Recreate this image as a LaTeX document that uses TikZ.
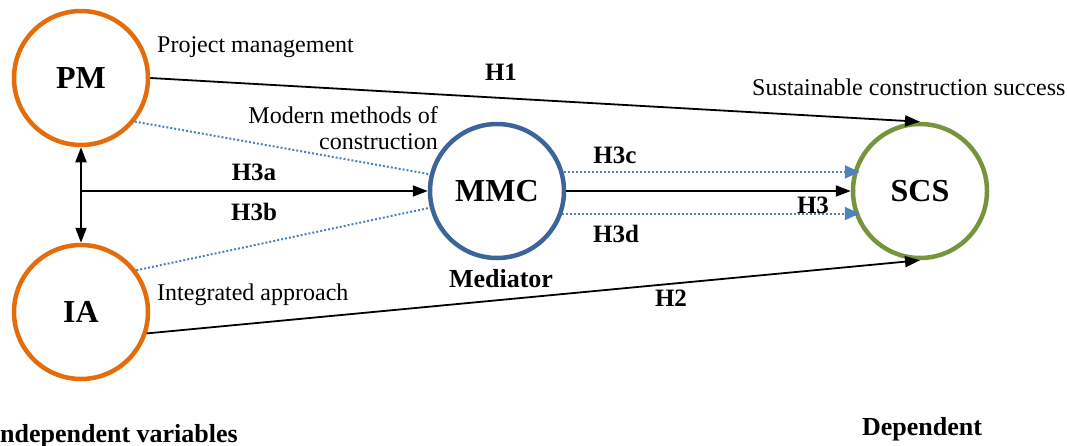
\documentclass[tikz,border=0pt]{standalone}
\usepackage{fontspec}
\setmainfont{Liberation Serif}
\usetikzlibrary{arrows.meta,calc}
\definecolor{ivorange}{RGB}{228,108,10}
\definecolor{medblue}{RGB}{60,100,152}
\definecolor{depgreen}{RGB}{119,147,60}
\definecolor{dotblue}{RGB}{79,129,189}
\tikzset{
  var/.style={circle,line width=4.5pt,minimum size=134pt,inner sep=0pt,
    font=\fontsize{32}{36}\selectfont\bfseries},
  path/.style={line width=1.8pt,-{Triangle[length=15pt,width=11pt]}},
  twoway/.style={line width=1.8pt,{Triangle[length=15pt,width=11pt]}-{Triangle[length=15pt,width=11pt]}},
  medpath/.style={dotblue,line width=2pt,dash pattern=on 2pt off 2pt},
  medarrow/.style={medpath,-{Triangle[length=15pt,width=13pt,fill=dotblue]}},
  hyp/.style={font=\fontsize{25}{28}\selectfont\bfseries,anchor=base,inner sep=0pt},
  desc/.style={font=\fontsize{24}{27}\selectfont,inner sep=0pt},
  role/.style={font=\fontsize{26}{29}\selectfont\bfseries,inner sep=0pt}
}
\begin{document}
\begin{tikzpicture}[x=1pt,y=-1pt]
\useasboundingbox (0,0) rectangle (1067,445);

% variables
\node[var,draw=ivorange] (PM) at (81,78) {PM};
\node[var,draw=ivorange] (IA) at (81,312) {IA};
\node[var,draw=medblue]  (MMC) at (497,191) {MMC};
\node[var,draw=depgreen] (SCS) at (920,191) {SCS};

% descriptions
\node[desc,anchor=base west] (dPM) at (157,52) {Project management};
\node[desc,anchor=base east] (dMMC1) at (438,123) {Modern methods of};
\node[desc,anchor=base east] (dMMC2) at (438,149) {construction};
\node[desc,anchor=base west] (dIA) at (157,300) {Integrated approach};
\node[desc,anchor=base west] (dSCS) at (752,95) {Sustainable construction success};

% roles
\node[role,anchor=base] (med) at (501,287) {Mediator};
\node[role,anchor=base east] (indep) at (238,442) {Independent variables};
\node[role,anchor=base] (dep) at (922,435) {Dependent};

% direct paths
\draw[path] (PM.east) -- (SCS.north);
\draw[path] (IA.-18) -- (SCS.south);
\draw[path] (MMC.east) -- (SCS.west);

% correlation between the independent variables and path to the mediator
\draw[twoway] (PM.south) -- (IA.north);
\coordinate (J) at (PM.south |- MMC.west);
\draw[path] (J) -- (MMC.west);

% mediated paths
\draw[medpath] (PM.-39) -- (MMC.166);
\draw[medpath] (IA.37) -- (MMC.194);
\draw[medarrow] (MMC.16) -- ([xshift=9pt]MMC.16 -| SCS.west);
\draw[medarrow] (MMC.-19) -- ([xshift=9pt]MMC.-19 -| SCS.west);

% hypotheses
\node[hyp] (h1) at (501,80) {H1};
\node[hyp] (h2) at (671,306) {H2};
\node[hyp] (h3) at (813,213) {H3};
\node[hyp] (h3a) at (254,180) {H3a};
\node[hyp] (h3b) at (254,220) {H3b};
\node[hyp] (h3c) at (615,163) {H3c};
\node[hyp] (h3d) at (616,242) {H3d};
\end{tikzpicture}
\end{document}
